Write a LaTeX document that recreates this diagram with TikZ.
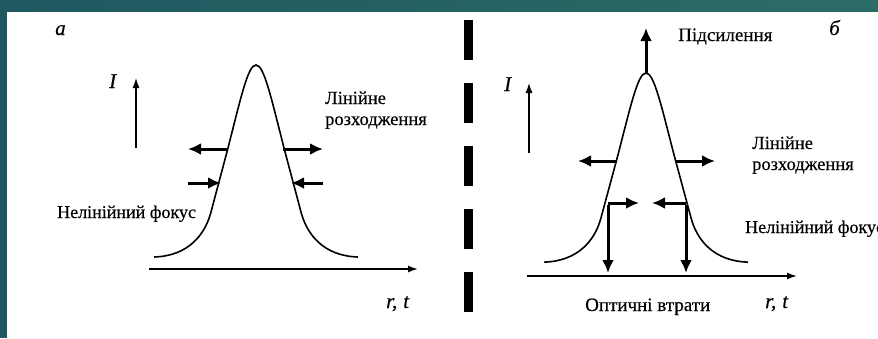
\documentclass[tikz,border=0pt]{standalone}
\usepackage{fontspec}
\setmainfont{Liberation Serif}[FakeBold=0.6]
\newfontfamily\lblfont{Liberation Serif}[FakeBold=0.35]
\usetikzlibrary{arrows.meta}
\definecolor{tealdark}{HTML}{1F5860}
\definecolor{teallight}{HTML}{2C6C68}
\begin{document}
\begin{tikzpicture}[x=1pt,y=-1pt,
  curve/.style={line width=1.6pt},
  axis/.style={line width=1.5pt,-{Latex[length=10pt,width=7pt]}},
  bigarrow/.style={line width=3pt,-{Latex[length=13pt,width=12pt]}},
  lbl/.style={font=\fontsize{19}{21}\lblfont, anchor=base west, inner sep=0pt},
  twoline/.style={align=left, font=\fontsize{18.5}{#1}\lblfont},
  small/.style={font=\fontsize{18}{20}\lblfont},
  ilbl/.style={font=\fontsize{21}{23}\lblfont\itshape, anchor=base west, inner sep=0pt},
  bell/.pic={\draw[curve] (-102,192) .. controls (-68,191) and (-51,170) .. (-45,147) -- (-28,83)
      .. controls (-15,32) and (-8,0) .. (0,0) .. controls (8,0) and (15,32) .. (28,83)
      -- (45,147) .. controls (51,170) and (68,191) .. (102,192);}]
\useasboundingbox (0,0) rectangle (878,338);
\clip (0,0) rectangle (878,338);
\fill[white] (0,0) rectangle (878,338);
\shade[left color=tealdark, right color=teallight] (0,0) rectangle (878,11);
\fill[tealdark] (0,0) rectangle (7,338);

% ---------- panel a ----------
\node[ilbl] (la) at (55,35) {а};
\node[ilbl] (Ia) at (109,88) {I};
\coordinate (Ia0) at (136,148); \coordinate (Ia1) at (136,78);
\draw[axis, line width=1.2pt] (Ia0) -- (Ia1);
\coordinate (xa0) at (149,269); \coordinate (xa1) at (418,269);
\draw[axis] (xa0) -- (xa1);
\node[ilbl] (rta) at (386,308) {r,\hspace{6pt}t};
\pic at (256,65) {bell};
\coordinate (aL1) at (228,149); \coordinate (aL1e) at (188,149);
\coordinate (aR1) at (283,149); \coordinate (aR1e) at (323,149);
\draw[bigarrow] (aL1) -- (aL1e);
\draw[bigarrow] (aR1) -- (aR1e);
\coordinate (aL2) at (188,183); \coordinate (aL2e) at (221,183);
\coordinate (aR2) at (323,183); \coordinate (aR2e) at (291,183);
\draw[bigarrow] (aL2) -- (aL2e);
\draw[bigarrow] (aR2) -- (aR2e);
\node[lbl, twoline=21pt] (lina) at (325,125) {Лінійне\\розходження};
\node[lbl, small] (nfa) at (57,218) {Нелінійний фокус};

% ---------- divider ----------
\coordinate (d0) at (468,20); \coordinate (d1) at (468,313);
\draw[line width=9pt, dash pattern=on 40pt off 23pt] (d0) -- (d1);

% ---------- panel b ----------
\node[ilbl] (lb) at (829,35) {б};
\node[ilbl] (Ib) at (504,91) {I};
\coordinate (Ib0) at (529,153); \coordinate (Ib1) at (529,83);
\draw[axis, line width=1.2pt] (Ib0) -- (Ib1);
\coordinate (xb0) at (527,276); \coordinate (xb1) at (797,276);
\draw[axis] (xb0) -- (xb1);
\node[ilbl] (rtb) at (765,308) {r,\hspace{6pt}t};
\pic[yscale=0.985] at (646,73) {bell};
\coordinate (peakb) at (646,73); \coordinate (upb) at (646,28);
\draw[bigarrow] (peakb) -- (upb);
\coordinate (bL1) at (617,161); \coordinate (bL1e) at (578,161);
\coordinate (bR1) at (676,161); \coordinate (bR1e) at (715,161);
\draw[bigarrow] (bL1) -- (bL1e);
\draw[bigarrow] (bR1) -- (bR1e);
\coordinate (bL2) at (608,203); \coordinate (bL2e) at (639,203);
\coordinate (bR2) at (686,203); \coordinate (bR2e) at (652,203);
\draw[bigarrow] (bL2) -- (bL2e);
\draw[bigarrow] (bR2) -- (bR2e);
\coordinate (bL3) at (608,203); \coordinate (bL3e) at (608,273);
\coordinate (bR3) at (686,203); \coordinate (bR3e) at (686,273);
\draw[bigarrow] ([yshift=-1.5pt]bL3) -- (bL3e);
\draw[bigarrow] ([yshift=-1.5pt]bR3) -- (bR3e);
\node[lbl] (upl) at (678,41) {Підсилення};
\node[lbl, twoline=21pt] (linb) at (752,170) {Лінійне\\розходження};
\node[lbl, small] (nfb) at (745,233) {Нелінійний фокус};
\node[lbl] (opt) at (585,311) {Оптичні втрати};
\end{tikzpicture}
\end{document}
